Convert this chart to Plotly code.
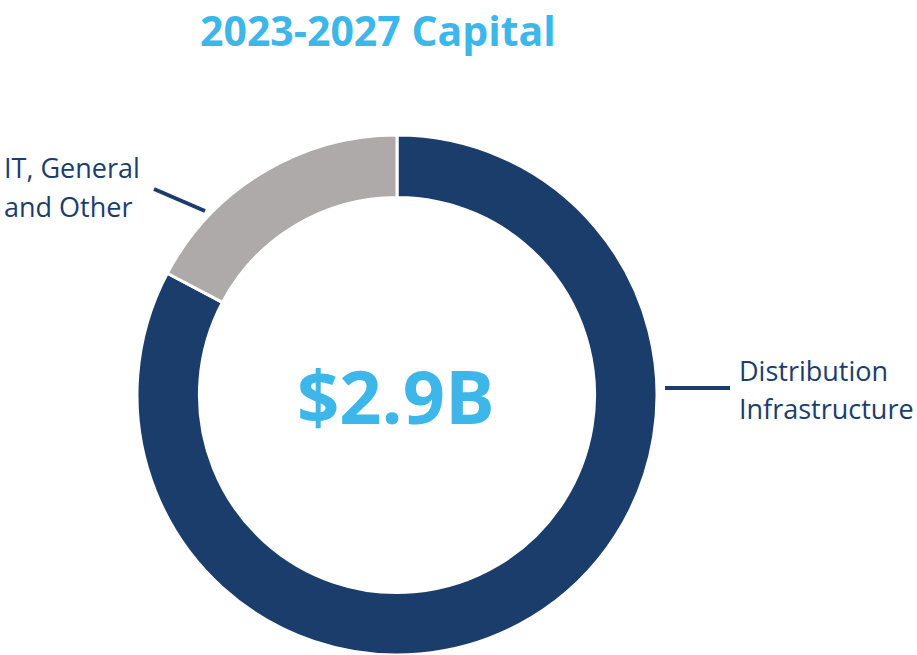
import plotly.graph_objects as go

W, H = 917, 655

categories = ["Distribution Infrastructure", "IT, General and Other"]
values = [2.4, 0.5]
colors = ["#1b3d6b", "#adaaa9"]
title_text = "2023-2027 Capital"
center_text = "$2.9B"
label_lines = {
    "IT, General and Other": ["IT, General", "and Other"],
    "Distribution Infrastructure": ["Distribution", "Infrastructure"],
}

navy = "#1b3d6b"
cyan = "#3db7e9"

def px(x):
    return x / W

def py(y):
    return 1 - y / H

cx, cy, r = 397, 395, 260

fig = go.Figure(go.Pie(
    labels=categories,
    values=values,
    hole=0.76,
    sort=False,
    direction="clockwise",
    rotation=0,
    marker=dict(colors=colors, line=dict(color="white", width=3)),
    textinfo="none",
    hoverinfo="label+value",
    domain=dict(x=[px(cx - r), px(cx + r)], y=[py(cy + r), py(cy - r)]),
))

font = "Open Sans"
annotations = [
    dict(text="<b>" + title_text + "</b>", x=px(378), y=1, xref="paper", yref="paper",
         showarrow=False, xanchor="center", yanchor="top",
         font=dict(family=font, size=41, color=cyan)),
    dict(text="<b>" + center_text + "</b>", x=px(396), y=py(395), xref="paper", yref="paper",
         showarrow=False, xanchor="center", yanchor="middle",
         font=dict(family=font, size=74, color=cyan)),
]

def add_label(lines, x, ys):
    for t, y in zip(lines, ys):
        annotations.append(dict(text=t, x=px(x), y=py(y), xref="paper", yref="paper",
                                showarrow=False, xanchor="left", yanchor="middle", align="left",
                                font=dict(family=font, size=27, color=navy)))

add_label(label_lines["IT, General and Other"], 2, [167, 206])
add_label(label_lines["Distribution Infrastructure"], 737, [370, 408])

shapes = [
    dict(type="line", xref="paper", yref="paper", x0=px(154), y0=py(189), x1=px(205), y1=py(211),
         line=dict(color=navy, width=4)),
    dict(type="line", xref="paper", yref="paper", x0=px(665), y0=py(388), x1=px(730), y1=py(388),
         line=dict(color=navy, width=4)),
]

fig.update_layout(
    width=W, height=H,
    margin=dict(l=0, r=0, t=0, b=0),
    paper_bgcolor="white", plot_bgcolor="white",
    showlegend=False,
    annotations=annotations,
    shapes=shapes,
)

fig.write_html(
    "out.html",
    config={"displayModeBar": False},
    post_script="document.body.style.margin='0';document.body.style.overflow='hidden';",
)
